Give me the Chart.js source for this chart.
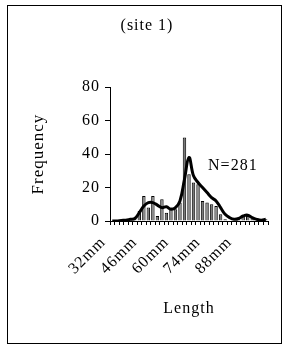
<!DOCTYPE html>
<html lang="en">
<head>
<meta charset="UTF-8">
<title>(site 1)</title>
<script src="https://cdn.jsdelivr.net/npm/chart.js@4.4.1/dist/chart.umd.min.js"></script>
<style>
  body { margin: 0; background: #fff; }
  #frame { position: absolute; left: 7px; top: 5px; width: 273px; height: 337px; border: 1px solid #000; }
  #lengthChart { position: absolute; left: 0; top: 0; }
</style>
</head>

<script>
  // 2mm classes, 32mm .. 100mm
  const lengths = ["32mm", "34mm", "36mm", "38mm", "40mm", "42mm", "44mm", "46mm", "48mm", "50mm",
    "52mm", "54mm", "56mm", "58mm", "60mm", "62mm", "64mm", "66mm", "68mm", "70mm",
    "72mm", "74mm", "76mm", "78mm", "80mm", "82mm", "84mm", "86mm", "88mm", "90mm",
    "92mm", "94mm", "96mm", "98mm", "100mm"];
  const counts = [0, 0, 0, 0, 1, 1, 6, 15, 8, 15,
    3, 13, 5, 8, 7, 11, 50, 28, 23, 22,
    12, 11, 10, 9, 4, 1, 0, 0, 1, 3,
    3, 1, 0, 0, 1];
  // moving-average curve drawn over the bars
  const smoothed = [0, 0, 0.3, 0.5, 1, 1.5, 5, 9, 11, 11,
    9.5, 8, 8.5, 7, 8, 12, 25, 38, 27, 23,
    20, 17, 14, 12, 8, 4, 2, 1, 1.5, 3,
    3.5, 2, 1, 0.5, 1];
  const yTicks = [0, 20, 40, 60, 80];
  const labelEvery = 7;
  const noteText = "N=281";
  const noteAt = { index: 21, value: 33 };

  const serif = "'Liberation Serif', 'Times New Roman', serif";

  // 元の図は文字間が広いので canvas 側で字間を足す
  const spacingPlugin = {
    id: "spacing",
    beforeLayout(chart) { chart.ctx.letterSpacing = "1px"; },
    beforeDraw(chart) { chart.ctx.letterSpacing = "1px"; }
  };

  // N=281 の注記
  const notePlugin = {
    id: "note",
    afterDatasetsDraw(chart) {
      const ctx = chart.ctx;
      const x = chart.scales.x.getPixelForValue(noteAt.index);
      const y = chart.scales.y.getPixelForValue(noteAt.value);
      ctx.save();
      ctx.font = "16px " + serif;
      ctx.fillStyle = "#000";
      ctx.textAlign = "left";
      ctx.textBaseline = "middle";
      ctx.fillText(noteText, x + 1, y);
      ctx.restore();
    }
  };

  window.onload = () => {
    new Chart(document.getElementById("lengthChart"), {
      type: "bar",
      data: {
        labels: lengths,
        datasets: [{
          type: "line",
          label: "smoothed",
          data: smoothed,
          borderColor: "#000",
          borderWidth: 3,
          pointRadius: 0,
          tension: 0.4,
          fill: false,
          order: 0
        }, {
          label: "count",
          data: counts,
          backgroundColor: "#7a7a7a",
          borderColor: "#000",
          borderWidth: 1,
          categoryPercentage: 1,
          barPercentage: 0.76,
          order: 1
        }]
      },
      options: {
        responsive: false,
        animation: false,
        events: [],
        layout: { padding: { left: 26, right: 15, top: 6, bottom: 26 } },
        plugins: {
          legend: { display: false },
          tooltip: { enabled: false },
          title: {
            display: true,
            text: "(site 1)",
            color: "#000",
            font: { family: serif, size: 16, weight: "normal" },
            padding: { top: 10, bottom: 52 }
          }
        },
        scales: {
          x: {
            grid: { drawOnChartArea: false, drawTicks: true, tickLength: 4, color: "#000", offset: true },
            border: { display: true, color: "#000", width: 1 },
            ticks: {
              autoSkip: false,
              minRotation: 45,
              maxRotation: 45,
              padding: 8,
              labelOffset: -9,
              color: "#000",
              font: { family: serif, size: 16 },
              callback: (v, i) => (i % labelEvery === 0 ? lengths[i] : "")
            },
            title: {
              display: true,
              text: "Length",
              color: "#000",
              font: { family: serif, size: 16 },
              padding: { top: 4, bottom: 3 }
            },
            afterFit: s => { s.height = 100; s.paddingLeft = 0; s.paddingRight = 0; }
          },
          y: {
            min: yTicks[0],
            max: yTicks[yTicks.length - 1],
            afterBuildTicks: s => { s.ticks = yTicks.map(v => ({ value: v })); },
            grid: { drawOnChartArea: false, drawTicks: true, tickLength: 5, color: "#000" },
            border: { display: true, color: "#000", width: 1 },
            ticks: { padding: 5, color: "#000", font: { family: serif, size: 16 } },
            title: {
              display: true,
              text: "Frequency",
              color: "#000",
              font: { family: serif, size: 17 },
              padding: { top: 2, bottom: 2 }
            },
            afterFit: s => { s.width = 84; }
          }
        }
      },
      plugins: [spacingPlugin, notePlugin]
    });
  };
</script>

<body>
  <div id="frame"></div>
  <canvas id="lengthChart" width="283" height="347"></canvas>
</body>

</html>
